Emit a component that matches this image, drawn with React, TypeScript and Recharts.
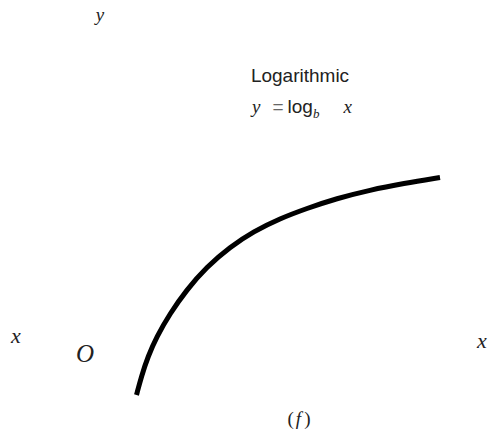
import React from 'react';
import { LineChart, Line, XAxis, YAxis, Customized } from 'recharts';

// Curve values (x along horizontal axis, y along vertical axis)
const xValues = [0.73, 0.83, 0.96, 1.13, 1.4, 1.73, 2.13, 2.6, 3.07, 3.6, 4.13, 4.73, 5.4, 6.07, 6.8];
const yValues = [-1.1, -0.72, -0.33, 0.06, 0.53, 1.0, 1.46, 1.86, 2.17, 2.43, 2.63, 2.83, 3.0, 3.13, 3.25];

const titleLine1 = 'Logarithmic';

const data = xValues.map((x, i) => ({ x, y: yValues[i] }));

const W = 499;
const H = 432;

const serif = '"Liberation Serif", "DejaVu Serif", serif';
const sans = '"Liberation Sans", Arial, sans-serif';

const Labels = () => (
  <g>
    <text x={100} y={21} fontFamily={serif} fontStyle="italic" fontSize={19} textAnchor="middle" fill="#222">y</text>
    <text x={300} y={82} fontFamily={sans} fontSize={19} textAnchor="middle" fill="#222">{titleLine1}</text>
    <text x={252} y={113} fontFamily={sans} fontSize={19} fill="#222">
      <tspan fontFamily={serif} fontStyle="italic">y</tspan>
      <tspan dx={12} fill="#666">=</tspan>
      <tspan dx={4}>log</tspan>
      <tspan fontFamily={serif} fontStyle="italic" fontSize={13} dy={5}>b</tspan>
      <tspan fontFamily={serif} fontStyle="italic" dx={24} dy={-5}>x</tspan>
    </text>
    <text x={16} y={343} fontFamily={serif} fontStyle="italic" fontSize={22} textAnchor="middle" fill="#222">x</text>
    <text x={482} y={348} fontFamily={serif} fontStyle="italic" fontSize={22} textAnchor="middle" fill="#222">x</text>
    <text x={85} y={362} fontFamily={serif} fontStyle="italic" fontSize={25} textAnchor="middle" fill="#222">O</text>
    <text x={299} y={425} fontFamily={serif} fontSize={19} textAnchor="middle" fill="#222">
      <tspan>(</tspan>
      <tspan fontStyle="italic" dx={2}>f</tspan>
      <tspan dx={3}>)</tspan>
    </text>
  </g>
);

export default function App() {
  return (
    <div style={{ position: 'absolute', left: 0, top: 0, width: W, height: H, background: '#fff' }}>
      <LineChart width={W} height={H} data={data} margin={{ top: 0, right: 0, bottom: 0, left: 0 }}>
        <XAxis dataKey="x" type="number" domain={[-2, 7.98]} hide allowDataOverflow />
        <YAxis type="number" domain={[-1.84, 6.8]} hide allowDataOverflow />
        <Line
          type="basis"
          dataKey="y"
          stroke="#000"
          strokeWidth={5}
          dot={false}
          activeDot={false}
          isAnimationActive={false}
        />
        <Customized component={Labels} />
      </LineChart>
    </div>
  );
}
